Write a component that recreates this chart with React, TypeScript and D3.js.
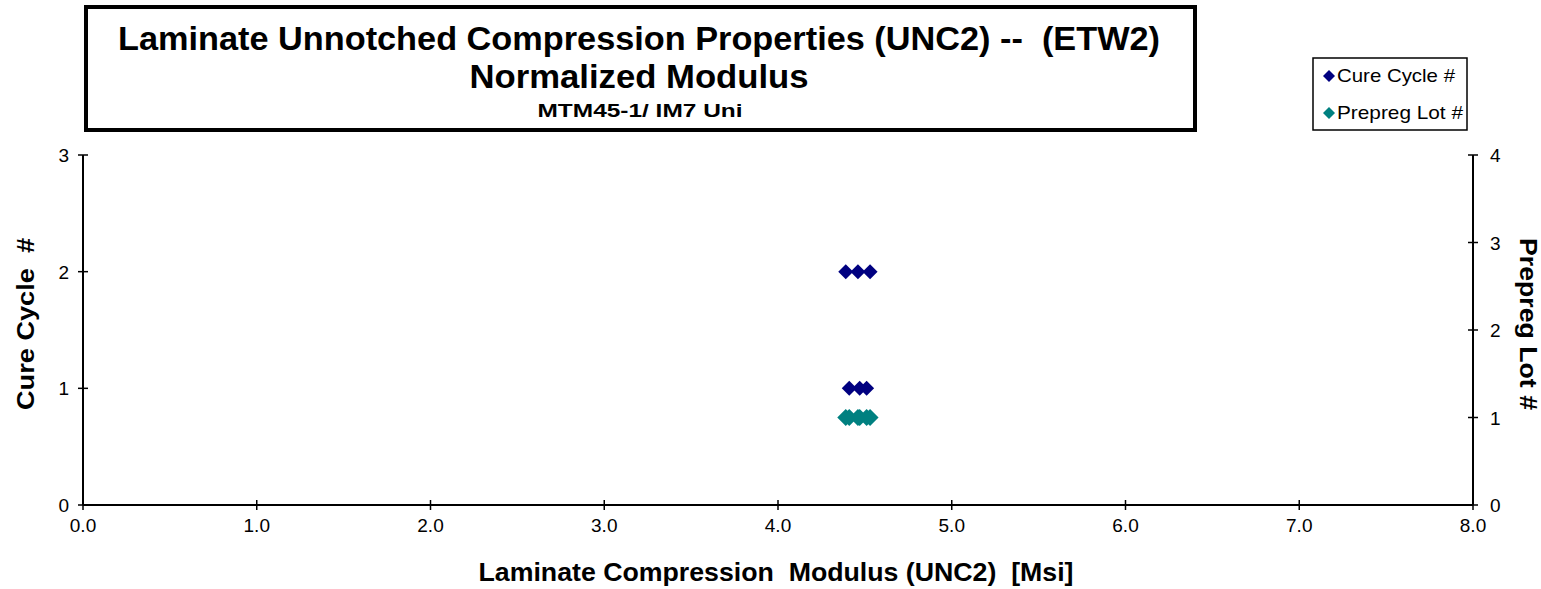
import React from "react";
import * as d3 from "d3";

const cureCycleX = [4.39, 4.46, 4.53, 4.41, 4.47, 4.51];
const cureCycleY = [2, 2, 2, 1, 1, 1];
const prepregLotX = [4.39, 4.46, 4.53, 4.41, 4.47, 4.51];
const prepregLotY = [1, 1, 1, 1, 1, 1];
const xTicks = [0, 1, 2, 3, 4, 5, 6, 7, 8];
const leftTicks = [0, 1, 2, 3];
const rightTicks = [0, 1, 2, 3, 4];

const W = 1541, H = 589;
const L = 83, R = 1473, T = 155, B = 505;
const FONT = "'Liberation Sans', Arial, sans-serif";

function diamond(cx: number, cy: number, r: number) {
  return `M${cx},${cy - r}L${cx + r},${cy}L${cx},${cy + r}L${cx - r},${cy}Z`;
}

const pre = { whiteSpace: "pre" as const };

export default function App() {
  const x = d3.scaleLinear().domain([0, 8]).range([L, R]);
  const yL = d3.scaleLinear().domain([0, 3]).range([B, T]);
  const yR = d3.scaleLinear().domain([0, 4]).range([B, T]);
  return (
    <svg width={W} height={H} style={{ position: "absolute", left: 0, top: 0 }} fontFamily={FONT}>
      <rect x={0} y={0} width={W} height={H} fill="#fff" />
      {/* Title box */}
      <rect x={86} y={7} width={1109} height={123} fill="#fff" stroke="#000" strokeWidth={4} />
      <text x={639} y={50} textAnchor="middle" fontSize={33} fontWeight="bold" style={pre} textLength={1042} lengthAdjust="spacingAndGlyphs">Laminate Unnotched Compression Properties (UNC2) --  (ETW2)</text>
      <text x={639} y={88} textAnchor="middle" fontSize={33} fontWeight="bold" textLength={339} lengthAdjust="spacingAndGlyphs">Normalized Modulus</text>
      <text x={640} y={117} textAnchor="middle" fontSize={18} fontWeight="bold" textLength={205} lengthAdjust="spacingAndGlyphs">MTM45-1/ IM7 Uni</text>
      {/* Legend */}
      <rect x={1313} y={58} width={154} height={72} fill="#fff" stroke="#000" strokeWidth={1.5} />
      <path d={diamond(1329, 76, 6)} fill="#000080" />
      <text x={1337} y={82} fontSize={19} textLength={118} lengthAdjust="spacingAndGlyphs">Cure Cycle #</text>
      <path d={diamond(1329, 113, 6)} fill="#008080" />
      <text x={1337} y={119} fontSize={19} textLength={126} lengthAdjust="spacingAndGlyphs">Prepreg Lot #</text>
      {/* Axes */}
      <line x1={L} y1={T} x2={L} y2={B} stroke="#000" strokeWidth={2} />
      <line x1={R} y1={T} x2={R} y2={B} stroke="#000" strokeWidth={2} />
      <line x1={L} y1={B} x2={R} y2={B} stroke="#000" strokeWidth={2} />
      {xTicks.map((t) => (
        <g key={"x" + t}>
          <line x1={x(t)} x2={x(t)} y1={B - 5} y2={B + 5} stroke="#000" strokeWidth={1.5} />
          <text x={x(t)} y={B + 27} textAnchor="middle" fontSize={19}>{t.toFixed(1)}</text>
        </g>
      ))}
      {leftTicks.map((t) => (
        <g key={"l" + t}>
          <line x1={L - 5} x2={L + 5} y1={yL(t)} y2={yL(t)} stroke="#000" strokeWidth={1.5} />
          <text x={L - 14} y={yL(t) + 7} textAnchor="end" fontSize={19}>{t}</text>
        </g>
      ))}
      {rightTicks.map((t) => (
        <g key={"r" + t}>
          <line x1={R - 5} x2={R + 5} y1={yR(t)} y2={yR(t)} stroke="#000" strokeWidth={1.5} />
          <text x={R + 17} y={yR(t) + 7} textAnchor="start" fontSize={19}>{t}</text>
        </g>
      ))}
      {/* Axis titles */}
      <text x={776} y={581} textAnchor="middle" fontSize={25} fontWeight="bold" style={pre} textLength={595} lengthAdjust="spacingAndGlyphs">Laminate Compression  Modulus (UNC2)  [Msi]</text>
      <text transform={`translate(34,324) rotate(-90)`} textAnchor="middle" fontSize={24} fontWeight="bold" style={pre} textLength={172} lengthAdjust="spacingAndGlyphs">Cure Cycle  #</text>
      <text transform={`translate(1520,324) rotate(90)`} textAnchor="middle" fontSize={23} fontWeight="bold" textLength={172} lengthAdjust="spacingAndGlyphs">Prepreg Lot #</text>
      {/* Data */}
      {prepregLotX.map((v, i) => (
        <path key={"p" + i} d={diamond(x(v), yR(prepregLotY[i]), 8.5)} fill="#008080" />
      ))}
      {cureCycleX.map((v, i) => (
        <path key={"c" + i} d={diamond(x(v), yL(cureCycleY[i]), 7.5)} fill="#000080" />
      ))}
    </svg>
  );
}
